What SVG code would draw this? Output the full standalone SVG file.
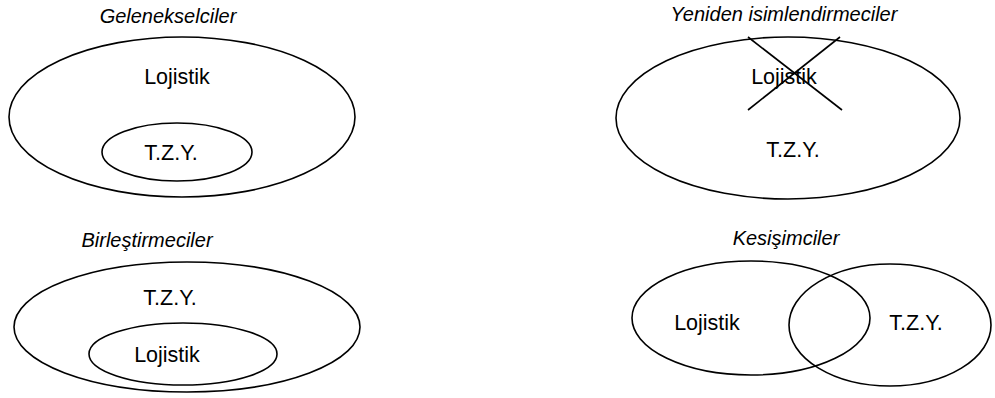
<svg xmlns="http://www.w3.org/2000/svg" width="995" height="398" viewBox="0 0 995 398">
<style>
.e{fill:none;stroke:#000;stroke-width:1.6}
.t{font-family:"Liberation Sans",Arial,sans-serif;font-size:21.5px;fill:#000;text-anchor:middle}
.h{font-family:"Liberation Sans",Arial,sans-serif;font-size:20px;font-style:italic;fill:#000;text-anchor:middle}
.x{stroke:#000;stroke-width:1.6}
</style>
<rect width="995" height="398" fill="#fff"/>
<g id="gelenekselciler">
<text class="h" x="168" y="23">Gelenekselciler</text>
<ellipse class="e" cx="182" cy="117" rx="173" ry="80"/>
<text class="t" x="177" y="84">Lojistik</text>
<ellipse class="e" cx="177" cy="152" rx="75" ry="29"/>
<text class="t" x="171" y="160">T.Z.Y.</text>
</g>
<g id="yeniden">
<text class="h" x="784" y="21">Yeniden isimlendirmeciler</text>
<ellipse class="e" cx="788" cy="118" rx="172" ry="81"/>
<text class="t" x="784" y="84">Lojistik</text>
<line class="x" x1="748" y1="37" x2="842" y2="110"/>
<line class="x" x1="840" y1="37" x2="748" y2="110"/>
<text class="t" x="793" y="157">T.Z.Y.</text>
</g>
<g id="birlestirmeciler">
<text class="h" x="147" y="247">Birleştirmeciler</text>
<ellipse class="e" cx="187" cy="327" rx="173" ry="65"/>
<text class="t" x="170" y="305">T.Z.Y.</text>
<ellipse class="e" cx="183" cy="354" rx="94" ry="31"/>
<text class="t" x="167" y="362">Lojistik</text>
</g>
<g id="kesisimciler">
<text class="h" x="786" y="245">Kesişimciler</text>
<ellipse class="e" cx="751" cy="318" rx="119" ry="57"/>
<ellipse class="e" cx="890" cy="325" rx="101" ry="61"/>
<text class="t" x="707" y="330">Lojistik</text>
<text class="t" x="916" y="330">T.Z.Y.</text>
</g>
</svg>
